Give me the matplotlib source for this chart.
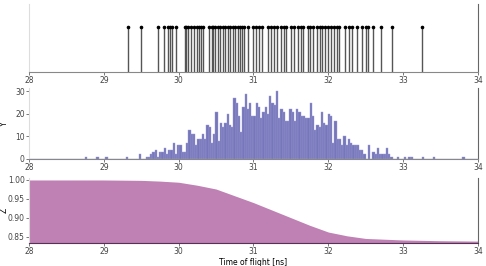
import numpy as np
import matplotlib
matplotlib.use("Agg")
import matplotlib.pyplot as plt

# event times [ns] shown as stems
event_times = [29.32, 29.50, 29.72, 29.81, 29.86, 29.88, 29.91, 29.97,
               30.08, 30.10, 30.13, 30.16, 30.21, 30.24, 30.27, 30.30, 30.32,
               30.41, 30.44, 30.46, 30.48, 30.52, 30.55, 30.59, 30.62, 30.66,
               30.69, 30.72, 30.75, 30.79, 30.82, 30.85, 30.87, 30.92, 30.99,
               31.03, 31.07, 31.11, 31.19, 31.23, 31.28, 31.32, 31.37, 31.41,
               31.44, 31.50, 31.54, 31.59, 31.63, 31.66, 31.73, 31.76, 31.80,
               31.85, 31.89, 31.92, 31.96, 32.00, 32.03, 32.08, 32.12, 32.14,
               32.22, 32.28, 32.31, 32.38, 32.45, 32.51, 32.53, 32.60, 32.71,
               32.85, 33.25]

# histogram: 200 bins of 0.03 ns starting at 28 ns
bin_start = 28.0
bin_width = 0.03
hist_counts = [
    0, 0, 0, 0, 0, 0, 0, 0, 0, 0, 0, 0, 0, 0, 0, 0, 0, 0, 0, 0, 0, 0, 0, 0, 0,
    1, 0, 0, 0, 0, 1, 0, 0, 0, 1, 0, 0, 0, 0, 0, 0, 0, 0, 1, 0, 0, 0, 0, 0, 2,
    0, 0,
    1, 1, 2, 3, 4, 1, 3, 3, 5, 2, 4, 4, 7, 2, 6, 6, 3, 3, 7, 13, 11, 11, 6, 9,
    9, 11, 9, 15, 14, 7, 11, 21, 8, 16, 14, 16, 20, 15, 14, 27, 25, 19, 12,
    23, 29, 22, 25, 19, 19, 25, 23, 18, 21, 23, 20, 28, 25, 24, 30, 18, 22, 21,
    17, 17, 22, 21, 17, 22,
    21, 19, 19, 18, 18, 25, 19, 13, 15, 14,
    21, 16, 15, 20, 19, 7, 17, 9, 9, 6, 10, 6, 9,
    7, 6, 6, 6, 4, 4, 2, 0,
    6, 0, 3, 2, 5, 2, 2, 2, 5, 2, 1, 0, 0, 1, 0, 0, 1, 0, 1, 1, 0, 0, 0, 0, 1,
    0, 0, 0, 0, 1, 0, 0, 0, 0, 0, 0, 0, 0, 0, 0, 0, 0, 1, 0, 0, 0, 0, 0, 0,
]

# Z curve
z_time = [28.0, 28.25, 28.5, 28.75, 29.0, 29.25, 29.5, 29.75, 30.0, 30.25,
          30.5, 30.75, 31.0, 31.25, 31.5, 31.75, 32.0, 32.25, 32.5, 32.75,
          33.0, 33.25, 33.5, 33.75, 34.0]
z_value = [1.000, 1.000, 1.000, 1.000, 1.000, 0.9995, 0.999, 0.997, 0.994,
           0.986, 0.976, 0.958, 0.940, 0.920, 0.900, 0.880, 0.862, 0.852,
           0.845, 0.843, 0.841, 0.840, 0.839, 0.8385, 0.838]

plt.rcParams['font.family'] = 'DejaVu Sans'
plt.rcParams['font.size'] = 5.5

fig = plt.figure(figsize=(4.86, 2.66), dpi=100)
ax1 = fig.add_axes([0.0597, 0.7293, 0.9238, 0.255])
ax2 = fig.add_axes([0.0597, 0.4023, 0.9238, 0.267])
ax3 = fig.add_axes([0.0597, 0.0865, 0.9238, 0.244])

def style(ax):
    ax.set_xlim(28, 34)
    ax.spines['top'].set_visible(False)
    ax.spines['left'].set_color('#dddddd')
    ax.spines['right'].set_color('#666666')
    ax.spines['bottom'].set_color('#888888')
    ax.tick_params(colors='#444444', length=2, width=0.5, pad=1, labelsize=5.5)
    ax.set_xticks([28, 29, 30, 31, 32, 33, 34])
    ax.patch.set_alpha(0)

# stems
ax1.vlines(event_times, 0, 1, color='#555555', lw=1)
ax1.plot(event_times, np.ones(len(event_times)), 'o', color='black', ms=1.6)
ax1.set_ylim(0, 1.5)
ax1.set_yticks([])
style(ax1)

# histogram
edges = bin_start + bin_width * np.arange(len(hist_counts))
ax2.bar(edges, hist_counts, width=bin_width, align='edge', color='#7676ba',
        edgecolor='#9c9cd4', lw=0.3)
ax2.set_ylim(0, 31.5)
ax2.set_yticks([0, 10, 20, 30])
ax2.set_ylabel('Y')
ax2.yaxis.set_label_coords(-0.045, 0.5)
style(ax2)

# Z
ax3.fill_between(z_time, 0.8, z_value, color='#bf80b4', lw=0)
ax3.set_ylim(0.833, 1.005)
ax3.set_yticks([0.85, 0.90, 0.95, 1.00])
ax3.set_yticklabels(['0.85', '0.90', '0.95', '1.00'])
ax3.set_ylabel('Z')
ax3.yaxis.set_label_coords(-0.045, 0.5)
ax3.set_xlabel('Time of flight [ns]', labelpad=1)
style(ax3)
ax3.spines['bottom'].set_color('#553355')

fig.savefig('out.png', dpi=100)
